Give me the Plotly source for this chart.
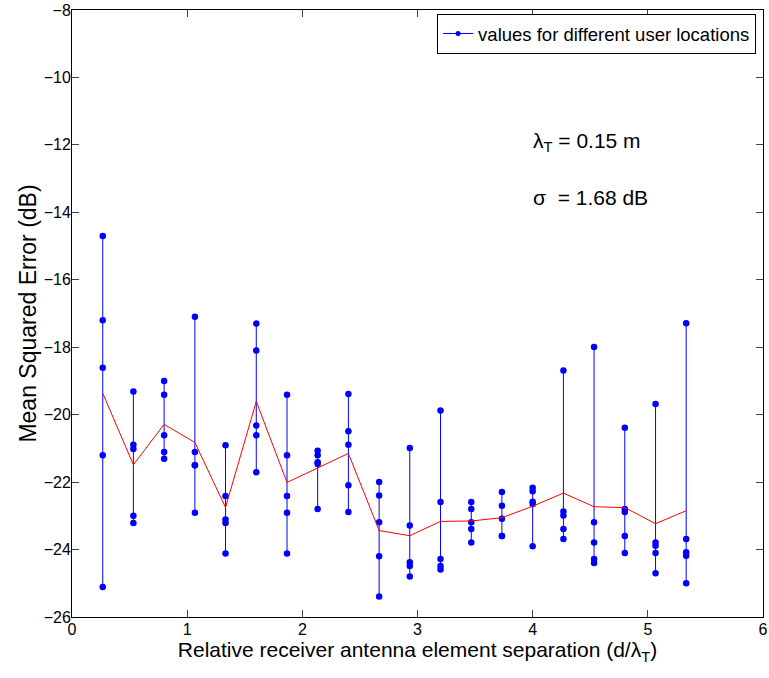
import plotly.graph_objects as go

# Relative receiver antenna element separation (d/lambda_T)
separations = [0.267, 0.533, 0.800, 1.067, 1.333, 1.600, 1.867, 2.133, 2.400, 2.667,
               2.933, 3.200, 3.467, 3.733, 4.000, 4.267, 4.533, 4.800, 5.067, 5.333]

# MSE values (dB) for different user locations at each separation
mse_values = [
    [-14.70, -17.20, -18.61, -21.20, -25.11],
    [-19.31, -20.89, -21.02, -23.00, -23.21],
    [-19.00, -19.41, -20.61, -21.11, -21.31],
    [-17.10, -21.11, -21.50, -21.50, -22.91],
    [-20.91, -22.41, -23.11, -23.21, -24.12],
    [-17.30, -18.10, -20.32, -20.61, -21.71],
    [-19.41, -21.20, -22.41, -22.91, -24.12],
    [-21.07, -21.20, -21.41, -21.46, -22.80],
    [-19.39, -20.49, -20.89, -22.09, -22.89],
    [-22.00, -22.40, -23.19, -24.20, -25.39],
    [-20.99, -23.29, -24.38, -24.49, -24.80],
    [-19.88, -22.59, -24.28, -24.49, -24.59],
    [-22.59, -22.80, -23.19, -23.39, -23.79],
    [-22.29, -22.70, -23.09, -23.60, -23.60],
    [-22.17, -22.27, -22.58, -22.65, -23.90],
    [-18.69, -22.87, -22.99, -23.39, -23.69],
    [-17.99, -23.19, -23.79, -24.28, -24.40],
    [-20.39, -22.80, -22.89, -23.60, -24.10],
    [-19.68, -23.79, -23.89, -24.10, -24.70],
    [-17.29, -23.69, -24.08, -24.18, -25.00],
]

x_ticks = [0, 1, 2, 3, 4, 5, 6]
y_ticks = [-26, -24, -22, -20, -18, -16, -14, -12, -10, -8]
legend_label = "values for different user locations"

# Build vertical stems (one trace with gaps)
xs, ys = [], []
for sx, vals in zip(separations, mse_values):
    xs += [sx] * len(vals) + [None]
    ys += list(vals) + [None]

means = [sum(v) / len(v) for v in mse_values]

fig = go.Figure()
fig.add_trace(go.Scatter(
    x=xs, y=ys, mode="lines+markers",
    line=dict(color="#0000ff", width=1),
    marker=dict(color="#0000ff", size=6.5),
    showlegend=False,
    connectgaps=False,
))
fig.add_trace(go.Scatter(
    x=separations, y=means, mode="lines",
    line=dict(color="#ff0000", width=1),
    showlegend=False,
))
# legend entry (small marker like the reference legend)
fig.add_trace(go.Scatter(
    x=[None], y=[None], mode="lines+markers",
    line=dict(color="#0000ff", width=1),
    marker=dict(color="#0000ff", size=5),
    name=legend_label,
))

font_family = "Liberation Sans, Arial, Helvetica, sans-serif"

fig.update_layout(
    width=769, height=678,
    margin=dict(l=72, r=6, t=10, b=61),
    plot_bgcolor="white", paper_bgcolor="white",
    font=dict(family=font_family, size=16, color="black"),
    legend=dict(
        x=0.99, y=0.9935, xanchor="right", yanchor="top",
        bordercolor="black", borderwidth=1, bgcolor="white",
        font=dict(size=18.5, family=font_family),
        itemwidth=30, tracegroupgap=0,
    ),
    xaxis=dict(
        range=[0, 6], tickvals=x_ticks, ticks="inside", ticklen=7,
        showline=True, linecolor="black", linewidth=1, mirror="ticks",
        showgrid=False, zeroline=False, automargin=False,
        tickfont=dict(size=16), ticklabelstandoff=-2, ticklabeloverflow="allow",
        title=dict(text="Relative receiver antenna element separation (d/λ<sub>T</sub>)",
                   font=dict(size=21), standoff=4),
    ),
    yaxis=dict(
        range=[-26, -8], tickvals=y_ticks, ticks="inside", ticklen=7,
        showline=True, linecolor="black", linewidth=1, mirror="ticks",
        showgrid=False, zeroline=False, automargin=False,
        tickfont=dict(size=16), ticklabelstandoff=-3, ticklabeloverflow="allow",
        title=dict(text="Mean Squared Error (dB)", font=dict(size=23), standoff=0),
    ),
    annotations=[
        dict(x=3.985, y=-11.92, xref="x", yref="y", xanchor="left", yanchor="middle",
             text="λ<sub>T</sub> = 0.15 m", showarrow=False, font=dict(size=21)),
        dict(x=3.985, y=-13.55, xref="x", yref="y", xanchor="left", yanchor="middle",
             text="σ  = 1.68 dB", showarrow=False, font=dict(size=21)),
    ],
)

# Remove the default page margin so the figure fills the window exactly.
fig.write_html("out.html", config={"displayModeBar": False},
               post_script="document.body.style.margin='0';")
